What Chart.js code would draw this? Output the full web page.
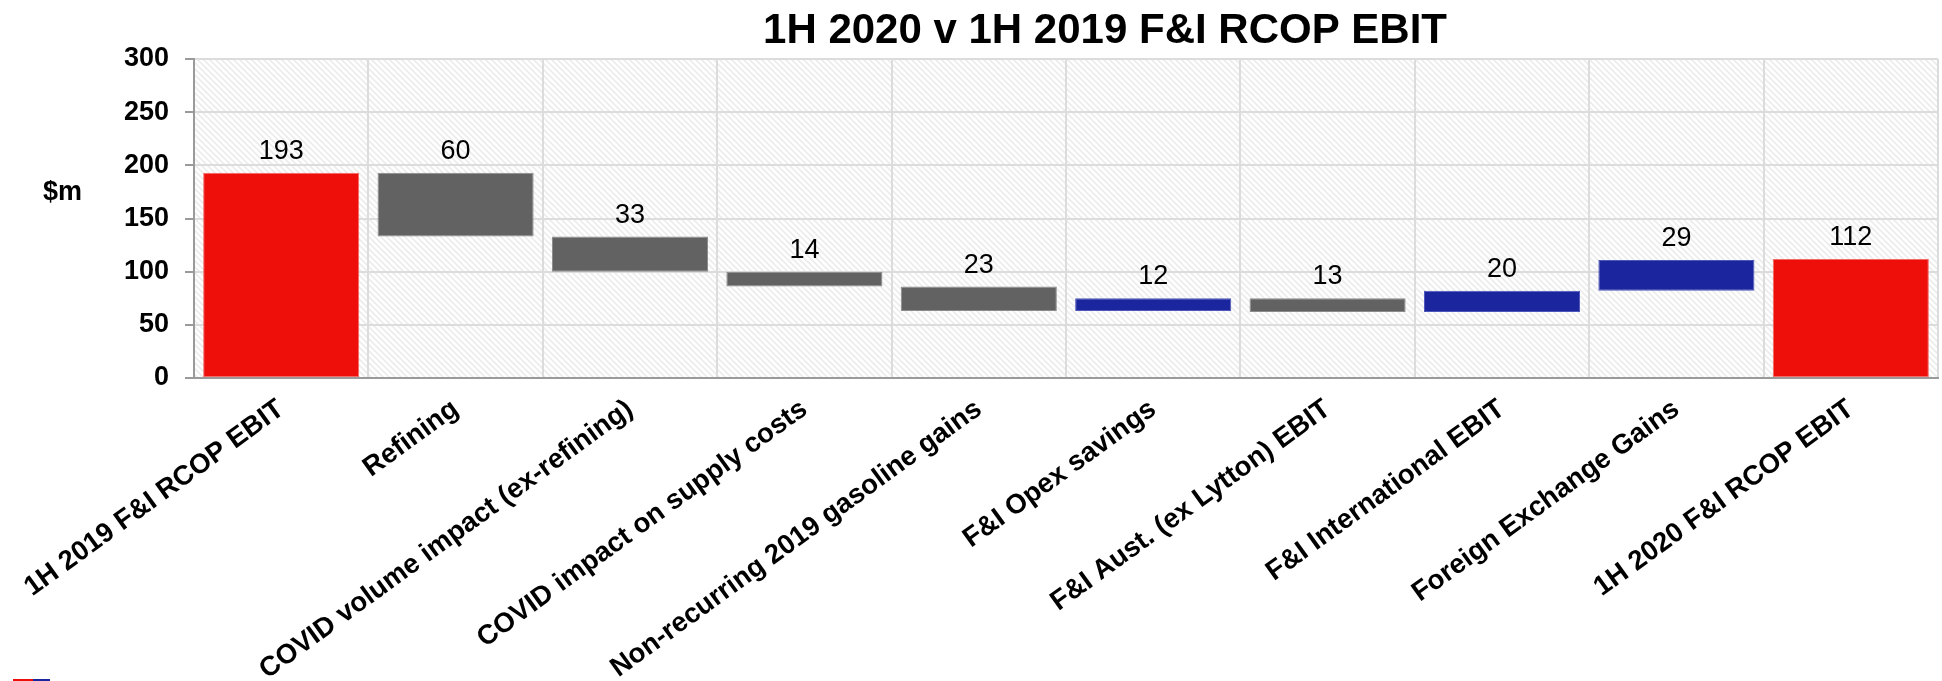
<!DOCTYPE html>
<html>
<head>
<meta charset="utf-8">
<script src="https://cdn.jsdelivr.net/npm/chart.js@4.4.1/dist/chart.umd.min.js"></script>
<style>
  html, body { margin: 0; padding: 0; background: #ffffff; }
  #wrap { width: 1942px; height: 681px; position: relative; }
</style>
</head>
<body>
<div id="wrap"><canvas id="chart" width="1942" height="681"></canvas></div>
<script>
// Bridge categories, left to right
const categories = [
  '1H 2019 F&I RCOP EBIT',
  'Refining',
  'COVID volume impact (ex-refining)',
  'COVID impact on supply costs',
  'Non-recurring 2019 gasoline gains',
  'F&I Opex savings',
  'F&I Aust. (ex Lytton) EBIT',
  'F&I International EBIT',
  'Foreign Exchange Gains',
  '1H 2020 F&I RCOP EBIT'
];
// Labelled magnitude of each bar ($m)
const barValues = [193, 60, 33, 14, 23, 12, 13, 20, 29, 112];
// Kind of step: opening/closing totals, decreases, increases
const barKinds = ['total', 'down', 'down', 'down', 'down', 'up', 'down', 'up', 'up', 'total'];
const yTicks = [0, 50, 100, 150, 200, 250, 300];

const kindColors = { total: '#ee0f0b', down: '#626262', up: '#1b259e' };
const kindBorders = { total: '#f36a66', down: '#8c8c8c', up: '#4d57ba' };

// Floating ranges for the waterfall, walked from the opening total
const ranges = [];
let running = 0;
barValues.forEach((v, i) => {
  const k = barKinds[i];
  if (k === 'total') { ranges.push([0, v]); running = v; }
  else if (k === 'down') { ranges.push([running - v, running]); running -= v; }
  else { ranges.push([running, running + v]); running += v; }
});

const FONT = "'Liberation Sans', Arial, Helvetica, sans-serif";

// Light diagonal hatch behind the plot
function hatchPattern(ctx) {
  const s = 6;
  const c = document.createElement('canvas');
  c.width = s; c.height = s;
  const g = c.getContext('2d');
  g.fillStyle = '#ffffff';
  g.fillRect(0, 0, s, s);
  g.strokeStyle = '#ececec';
  g.lineWidth = 1.6;
  g.beginPath();
  g.moveTo(-1, -1); g.lineTo(s + 1, s + 1);
  g.moveTo(-1, s - 1); g.lineTo(1, s + 1);
  g.moveTo(s - 1, -1); g.lineTo(s + 1, 1);
  g.stroke();
  return ctx.createPattern(c, 'repeat');
}

const decorPlugin = {
  id: 'decor',
  beforeDraw(chart) {
    const { ctx, chartArea: a } = chart;
    ctx.save();
    ctx.fillStyle = '#ffffff';
    ctx.fillRect(0, 0, chart.width, chart.height);
    ctx.fillStyle = hatchPattern(ctx);
    ctx.fillRect(a.left, a.top, a.right - a.left, a.bottom - a.top);
    ctx.restore();
  },
  afterDraw(chart) {
    const { ctx } = chart;
    ctx.save();
    // Title
    ctx.fillStyle = '#000000';
    ctx.font = 'bold 42px ' + FONT;
    ctx.textAlign = 'center';
    ctx.textBaseline = 'alphabetic';
    ctx.fillText('1H 2020 v 1H 2019 F&I RCOP EBIT', 1105, 43);
    // Unit label beside the value axis
    ctx.font = 'bold 27px ' + FONT;
    ctx.textAlign = 'left';
    ctx.fillText('$m', 43, 200);
    // Small red/blue brand strip in the lower corner
    ctx.fillStyle = '#ee0f0b';
    ctx.fillRect(13, 679, 20, 2);
    ctx.fillStyle = '#1b259e';
    ctx.fillRect(33, 679, 17, 2);
    ctx.restore();
  },
  afterDatasetsDraw(chart) {
    const { ctx } = chart;
    const meta = chart.getDatasetMeta(0);
    ctx.save();
    ctx.fillStyle = '#000000';
    ctx.font = '27px ' + FONT;
    ctx.textAlign = 'center';
    ctx.textBaseline = 'alphabetic';
    meta.data.forEach((bar, i) => {
      const top = Math.min(bar.y, bar.base);
      ctx.fillText(String(barValues[i]), bar.x, top - 14);
    });
    ctx.restore();
  }
};

new Chart(document.getElementById('chart'), {
  type: 'bar',
  data: {
    labels: categories,
    datasets: [{
      data: ranges,
      backgroundColor: barKinds.map(k => kindColors[k]),
      borderColor: barKinds.map(k => kindBorders[k]),
      borderWidth: 1,
      borderSkipped: false,
      barPercentage: 0.895,
      categoryPercentage: 1.0
    }]
  },
  options: {
    responsive: false,
    animation: false,
    devicePixelRatio: 1,
    layout: { padding: { top: 59, right: 4, left: 0, bottom: 0 } },
    plugins: { legend: { display: false }, title: { display: false }, tooltip: { enabled: false } },
    scales: {
      x: {
        grid: { offset: true, color: '#dcdcdc', lineWidth: 2, drawTicks: false },
        border: { color: '#9a9a9a', width: 2 },
        ticks: {
          color: '#000000',
          font: { family: FONT, size: 27.5, weight: 'bold' },
          minRotation: 36,
          maxRotation: 36,
          autoSkip: false,
          padding: 15
        },
        afterFit(scale) { scale.height = 303; }
      },
      y: {
        min: 0,
        max: 300,
        afterBuildTicks(scale) { scale.ticks = yTicks.map(v => ({ value: v })); },
        grid: { color: '#dcdcdc', lineWidth: 2, tickLength: 9, tickColor: '#9a9a9a' },
        border: { color: '#9a9a9a', width: 2 },
        ticks: {
          color: '#000000',
          font: { family: FONT, size: 27, weight: 'bold' },
          padding: 16
        },
        afterFit(scale) { scale.width = 194; }
      }
    }
  },
  plugins: [decorPlugin]
});
</script>
</body>
</html>
